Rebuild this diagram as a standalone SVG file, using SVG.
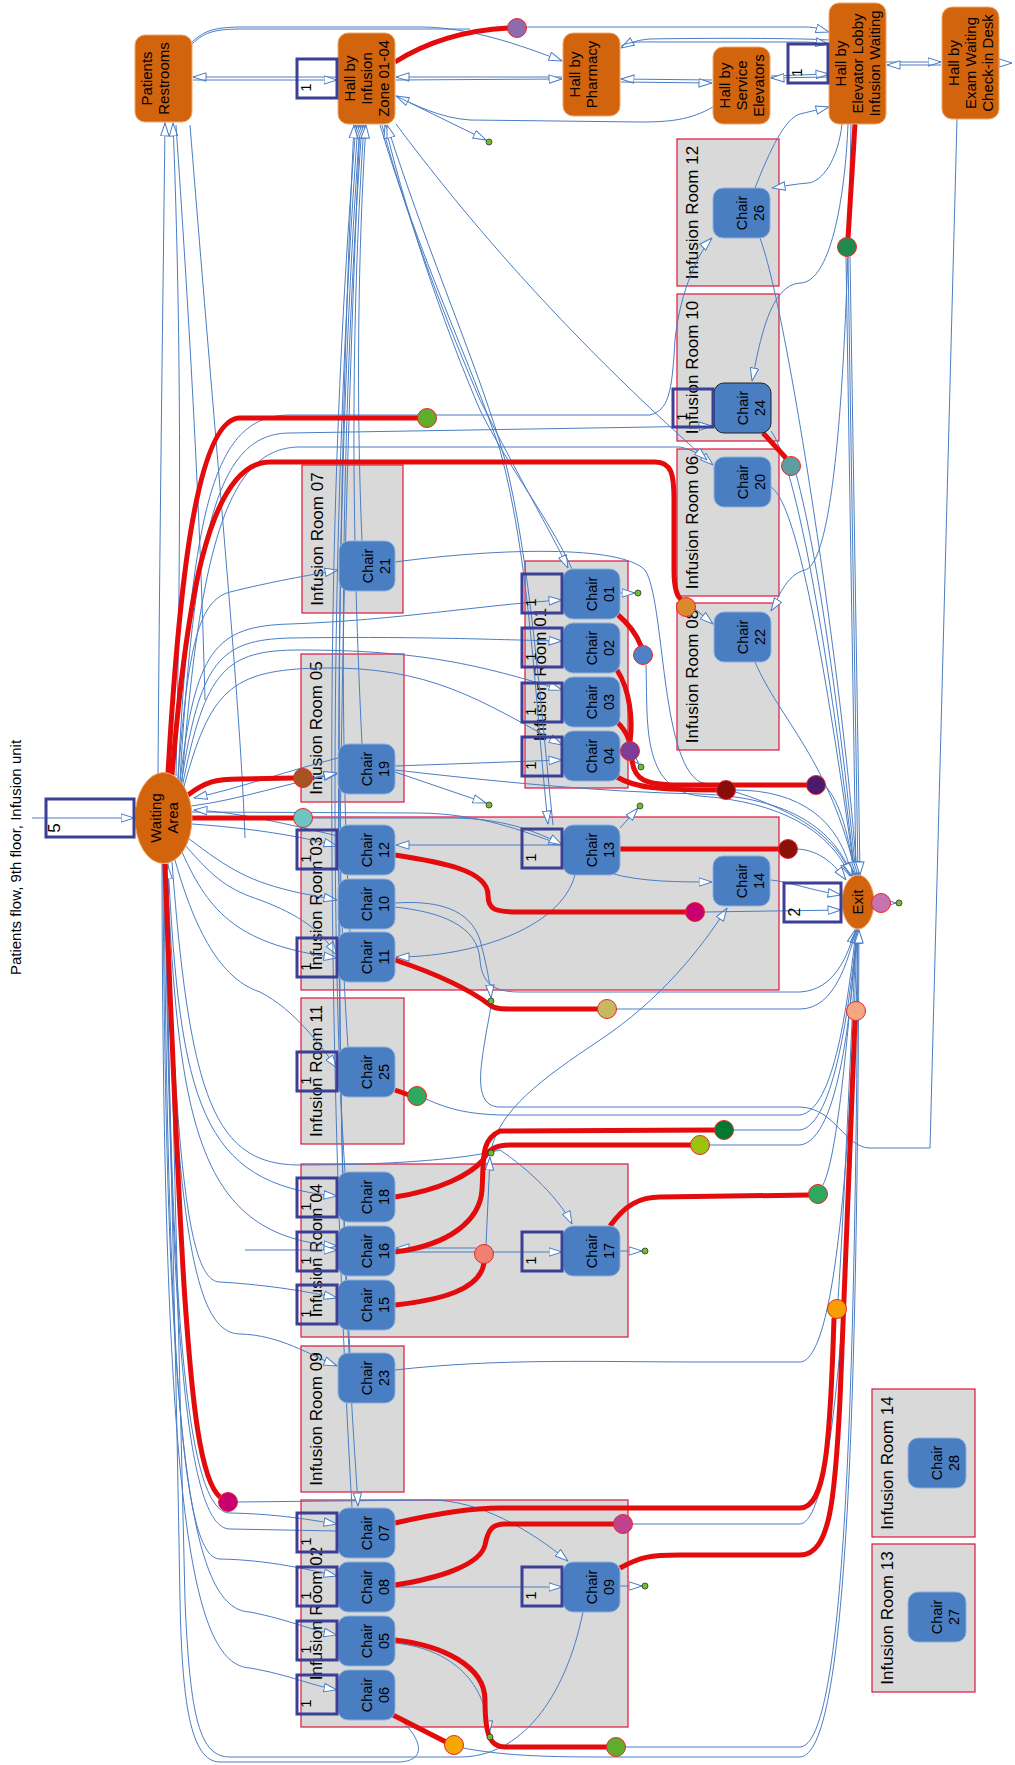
<svg xmlns="http://www.w3.org/2000/svg" width="1015" height="1765" viewBox="0 0 1015 1765">
<defs>
<marker id="a" viewBox="0 0 14 10" refX="13.5" refY="5" markerWidth="14" markerHeight="10" markerUnits="userSpaceOnUse" orient="auto"><path d="M0.5,0.8 L13.5,5 L0.5,9.2 Z" fill="#fff" stroke="#4A7DC4" stroke-width="1"/></marker>
<style>
.room{fill:#D9D9D9;stroke:#DC143C;stroke-width:1.2}
.hall{fill:#D2640E;stroke:#F0A868;stroke-width:1}
.chair{fill:#4A7EC3;stroke:#8DB0DE;stroke-width:1}
.box{fill:none;stroke:#3B3F96;stroke-width:3}
.e{fill:none;stroke:#4A7DC4;stroke-width:1;marker-end:url(#a)}
.e0{fill:none;stroke:#4A7DC4;stroke-width:1}
.r{fill:none;stroke:#E30B0B;stroke-width:5;stroke-linejoin:round}
.c{stroke:#E4282B;stroke-width:1}
.dot{fill:#6BBF2A;stroke:#333;stroke-width:0.8}
text{font-family:"Liberation Sans",Arial,sans-serif;fill:#000;text-anchor:middle}
.tn{font-size:15px}
.tc{font-size:14.5px}
.tr{font-size:17px}
.tb{font-size:15px}
</style>
</defs>
<rect width="1015" height="1765" fill="#fff"/>
<text class="tn" transform="translate(21,857.5) rotate(-90)" x="0" y="0">Patients flow, 9th floor, Infusion unit</text>

<g id="rooms">
<g id="room12"><rect class="room" x="677" y="139" width="102" height="147"/><text class="tr" transform="translate(697.5,212.5) rotate(-90)">Infusion Room 12</text></g>
<g id="room10"><rect class="room" x="677" y="294" width="102" height="147"/><text class="tr" transform="translate(697.5,367.5) rotate(-90)">Infusion Room 10</text></g>
<g id="room06"><rect class="room" x="677" y="449" width="102" height="147"/><text class="tr" transform="translate(697.5,522.5) rotate(-90)">Infusion Room 06</text></g>
<g id="room08"><rect class="room" x="677" y="603" width="102" height="147"/><text class="tr" transform="translate(697.5,676.5) rotate(-90)">Infusion Room 08</text></g>
<g id="room07"><rect class="room" x="302" y="465" width="101" height="148"/><text class="tr" transform="translate(322.5,539) rotate(-90)">Infusion Room 07</text></g>
<g id="room05"><rect class="room" x="301" y="654" width="103" height="148"/><text class="tr" transform="translate(321.5,728) rotate(-90)">Infusion Room 05</text></g>
<g id="room01"><rect class="room" x="525" y="561" width="103" height="227"/><text class="tr" transform="translate(545.5,674.5) rotate(-90)">Infusion Room 01</text></g>
<g id="room03"><rect class="room" x="301" y="817" width="478" height="173"/><text class="tr" transform="translate(321.5,903.5) rotate(-90)">Infusion Room 03</text></g>
<g id="room11"><rect class="room" x="301" y="998" width="103" height="146"/><text class="tr" transform="translate(321.5,1071) rotate(-90)">Infusion Room 11</text></g>
<g id="room04"><rect class="room" x="301" y="1164" width="327" height="173"/><text class="tr" transform="translate(321.5,1250.5) rotate(-90)">Infusion Room 04</text></g>
<g id="room09"><rect class="room" x="301" y="1346" width="103" height="146"/><text class="tr" transform="translate(321.5,1419) rotate(-90)">Infusion Room 09</text></g>
<g id="room02"><rect class="room" x="301" y="1500" width="327" height="227"/><text class="tr" transform="translate(321.5,1613.5) rotate(-90)">Infusion Room 02</text></g>
<g id="room14"><rect class="room" x="872" y="1389" width="103" height="148"/><text class="tr" transform="translate(892.5,1463) rotate(-90)">Infusion Room 14</text></g>
<g id="room13"><rect class="room" x="872" y="1544" width="103" height="148"/><text class="tr" transform="translate(892.5,1618) rotate(-90)">Infusion Room 13</text></g>
</g>

<g id="connectors">
<!-- top halls -->
<path class="e" d="M337,77 L193,77"/>
<path class="e" d="M193,80 L337,80"/>
<path class="e" d="M192,42 C205,30 215,27 245,27 L420,27 C470,27 520,45 562,61"/>
<path class="e" d="M526,27 L805,27 C818,27 822,30 829,32"/>
<path class="e0" d="M192,44 C206,31 216,29 245,29 L470,29"/>
<path class="e" d="M829,40 C800,38 700,38 650,39 C635,40 628,44 621,48"/>
<path class="e" d="M621,46 C630,41 640,42 660,42 L800,42 C815,42 822,43 829,44"/>
<path class="e" d="M562,77 L396,77"/>
<path class="e" d="M396,80 L562,79"/>
<path class="e" d="M712,80 L621,79"/>
<path class="e" d="M621,82 L712,83"/>
<path class="e" d="M771,76 L829,74"/>
<path class="e" d="M829,77 L771,78"/>
<path class="e" d="M713,107 C690,120 670,122 640,122 L470,120 C440,118 415,105 396,96"/>
<path class="e" d="M396,96 L486,140"/>
<path class="e" d="M886,62 L941,62"/>
<path class="e" d="M941,65 L887,65"/>
<path class="e" d="M999,63 L1012,63"/>
<path class="e0" d="M957,119 L930,1148 L870,1148 C845,1148 835,1108 800,1107 L500,1107 C482,1107 478,1090 482,1060 C486,1030 490,1015 491,1005"/>
<!-- lobby -->
<path class="e" d="M842,124 C838,160 822,182 808,183 C795,184 785,186 772,188"/>
<path class="e" d="M755,188 C770,150 785,118 800,114 L829,107"/>
<path class="e" d="M848,124 C845,200 830,283 800,283 C770,285 760,340 752,381"/>
<path class="e" d="M851,124 C848,300 840,560 805,570 C785,575 778,600 771,611"/>
<!-- waiting input -->
<path class="e" d="M32,818 L134,818"/>
<!-- waiting to chairs -->
<path class="e" d="M180,782 C195,650 215,626 290,624 C400,620 480,605 562,600"/>
<path class="e" d="M181,785 C200,660 220,640 290,638 C420,636 500,640 562,641"/>
<path class="e" d="M182,788 C205,670 225,650 300,650 C420,650 480,665 562,690"/>
<path class="e" d="M183,790 C210,690 230,670 320,668 C430,666 480,700 562,745"/>
<path class="e" d="M178,780 C188,640 200,600 230,592 C270,582 310,575 338,570"/>
<path class="e" d="M191,806 C240,800 290,782 337,774"/>
<path class="e" d="M192,824 C250,828 300,836 337,846"/>
<path class="e" d="M188,838 C230,870 250,882 300,893 L337,900"/>
<path class="e" d="M185,845 C215,880 230,890 260,900 C300,915 320,930 337,955"/>
<path class="e" d="M182,852 C210,915 240,945 337,958"/>
<path class="e" d="M175,860 C200,950 230,982 260,992 C295,1010 320,1045 337,1068"/>
<path class="e" d="M168,863 C180,1100 200,1185 337,1196"/>
<path class="e" d="M167,864 C178,1130 200,1236 337,1246"/>
<path class="e" d="M166,864 C176,1180 190,1282 220,1282 C270,1285 310,1292 337,1298"/>
<path class="e" d="M165,864 C175,1260 200,1333 240,1334 C280,1335 310,1355 337,1366"/>
<path class="e" d="M166,864 C170,1300 185,1513 230,1513 C280,1514 310,1520 337,1524"/>
<path class="e0" d="M165,864 C170,1320 185,1529 230,1529 L337,1531"/>
<path class="e" d="M164,864 C168,1400 185,1559 220,1559 C270,1560 310,1570 337,1576"/>
<path class="e" d="M163,864 C166,1450 190,1610 250,1612 C290,1620 310,1630 337,1635"/>
<path class="e" d="M162,864 C163,1500 190,1665 250,1668 C290,1675 310,1685 337,1690"/>
<path class="e" d="M192,812 L420,813 C480,814 520,830 562,845"/>
<path class="e" d="M172,862 C190,1100 215,1165 300,1165 C400,1165 470,1158 500,1150 C530,1170 560,1200 572,1224"/>
<path class="e" d="M180,780 C195,520 220,433 290,433 L712,426"/>
<path class="e" d="M182,782 C200,540 230,447 300,447 L680,447 C695,450 705,458 713,465"/>
<path class="e" d="M178,779 C192,500 215,415 290,415 L650,415 C668,410 672,395 675,340 C680,290 700,250 712,238"/>
<path class="e" d="M237,1502 L430,1500 C480,1500 530,1530 568,1561"/>
<!-- to waiting -->
<path class="e" d="M338,758 C290,770 240,788 194,798"/>
<path class="e" d="M338,836 C290,825 240,812 194,810"/>
<path class="e" d="M583,1612 C565,1700 520,1757 460,1757 L230,1757 C200,1757 190,1720 185,1600 C178,1300 170,1000 168,866"/>
<path class="e0" d="M395,1715 C420,1735 430,1760 400,1762 L220,1762 C190,1762 182,1700 180,1600 C175,1300 167,1000 165,866"/>
<!-- to restrooms -->
<path class="e" d="M158,773 C160,500 163,300 165,123"/>
<path class="e" d="M176,776 C182,500 180,300 173,123"/>
<path class="e0" d="M205,700 C200,500 188,300 176,125"/>
<path class="e0" d="M245,838 C240,700 220,500 190,125"/>
<!-- to / from hall infusion -->
<path class="e" d="M352,1508 C340,1300 330,1000 332,700 C334,400 350,200 356,125"/>
<path class="e" d="M360,125 C352,300 338,700 340,1000 C342,1300 355,1450 358,1506"/>
<path class="e" d="M345,1172 C330,950 330,500 358,125"/>
<path class="e" d="M348,1047 C334,850 336,450 360,125"/>
<path class="e" d="M350,932 C338,700 342,400 362,125"/>
<path class="e" d="M362,744 C350,500 352,300 364,125"/>
<path class="e" d="M362,541 C356,400 358,250 366,125"/>
<path class="e" d="M350,1353 C336,1100 332,600 354,125"/>
<path class="e" d="M382,125 C410,230 450,330 480,400 C520,480 550,530 568,568"/>
<path class="e" d="M572,569 C550,520 510,470 480,410 C450,340 410,230 385,125"/>
<path class="e" d="M380,125 C420,260 470,360 500,450 C530,560 535,700 548,824"/>
<path class="e" d="M553,825 C540,700 530,560 505,460 C480,370 430,260 387,125"/>
<path class="e" d="M396,124 C460,210 560,330 707,460"/>
<!-- chair to chair / dots -->
<path class="e" d="M312,778 L337,773"/>
<path class="e" d="M312,818 L450,818 C500,818 535,830 562,845"/>
<path class="e" d="M395,766 L562,760"/>
<path class="e" d="M395,772 L486,803"/>
<path class="e" d="M620,593 L635,593"/>
<path class="e" d="M634,759 L639,764"/>
<path class="e" d="M620,828 L638,808"/>
<path class="e" d="M620,1251 L642,1251"/>
<path class="e" d="M620,1586 L642,1586"/>
<path class="e" d="M395,1252 L562,1252"/>
<path class="e" d="M476,1248 L396,1248"/>
<path class="e" d="M486,1245 L490,1157"/>
<path class="e" d="M245,1250 L337,1250"/>
<path class="e" d="M395,1587 L562,1587"/>
<path class="e" d="M395,1643 C460,1650 487,1690 489,1734"/>
<path class="e" d="M695,609 L713,624"/>
<path class="e" d="M563,845 L396,845"/>
<path class="e" d="M610,873 C640,882 680,882 712,882"/>
<path class="e" d="M575,875 C560,930 470,957 396,957"/>
<path class="e" d="M491,1150 C500,1110 540,1080 600,1040 C660,1000 700,950 727,908"/>
<path class="e" d="M395,903 C440,900 470,910 480,940 C488,970 490,985 491,998"/>
<path class="e" d="M890,903 L896,903"/>
<!-- to exit -->
<path class="e" d="M771,880 C790,882 810,890 841,895"/>
<path class="e" d="M704,912 L841,910"/>
<path class="e" d="M797,849 C820,850 835,865 846,880"/>
<path class="e" d="M825,786 C840,800 850,840 854,875"/>
<path class="e" d="M735,790 C800,790 840,820 852,876"/>
<path class="e" d="M646,665 C648,720 640,790 700,796 C780,802 830,830 850,876"/>
<path class="e" d="M395,562 C500,548 620,545 645,570 C665,600 660,760 700,782 C780,802 835,830 851,876"/>
<path class="e" d="M395,770 C500,782 600,792 700,794 C790,797 835,830 852,876"/>
<path class="e" d="M796,474 C820,560 845,760 856,875"/>
<path class="e" d="M771,487 C800,505 830,700 855,875"/>
<path class="e" d="M755,662 C780,720 830,760 856,875"/>
<path class="e" d="M760,238 C790,320 845,700 857,875"/>
<path class="e" d="M771,431 C800,470 835,700 855,875"/>
<path class="e" d="M846,257 L856,875"/>
<path class="e" d="M848,257 L858,875"/>
<path class="e" d="M850,257 L860,875"/>
<path class="e" d="M616,1009 L800,1009 C835,1009 848,960 856,930"/>
<path class="e" d="M395,907 C440,912 478,925 480,960 C482,988 500,992 520,992 L800,992 C835,990 848,955 855,930"/>
<path class="e" d="M426,1099 C450,1110 470,1114 500,1115 L800,1115 C835,1110 848,1000 856,930"/>
<path class="e" d="M733,1130 L800,1130 C835,1125 850,1000 857,930"/>
<path class="e" d="M709,1145 L800,1145 C840,1140 852,1000 857,930"/>
<path class="e" d="M823,1185 C840,1150 850,1000 857,930"/>
<path class="e" d="M395,1370 C500,1358 600,1362 700,1362 L800,1362 C840,1360 852,1100 857,930"/>
<path class="e" d="M838,1300 C845,1200 852,1000 857,930"/>
<path class="e" d="M632,1524 L800,1524 C840,1520 852,1200 858,930"/>
<path class="e" d="M625,1747 L800,1747 C845,1745 855,1400 858,930"/>
<path class="e" d="M463,1748 C500,1755 540,1757 600,1757 L800,1757 C848,1755 857,1400 859,930"/>
<!-- red flows -->
<path class="r" d="M395,62 C430,40 470,30 508,28"/>
<path class="r" d="M855,124 L848,238"/>
<path class="r" d="M168,773 C178,600 195,418 240,418 L418,418"/>
<path class="r" d="M172,775 C185,620 205,462 270,462 L655,462 C672,462 674,475 674,500 L674,570 C674,590 678,598 682,600"/>
<path class="r" d="M188,795 C205,782 215,779 240,779 L294,778"/>
<path class="r" d="M192,818 L294,818"/>
<path class="r" d="M165,864 C170,1000 180,1230 185,1300 C192,1400 200,1480 220,1497"/>
<path class="r" d="M763,433 L786,458"/>
<path class="r" d="M617,614 C630,625 638,638 641,646"/>
<path class="r" d="M617,670 C630,690 633,720 630,742"/>
<path class="r" d="M617,722 C628,732 632,745 632,760 C634,780 645,785 680,785 L807,785"/>
<path class="r" d="M617,777 C635,788 660,790 717,790"/>
<path class="r" d="M620,849 L779,849"/>
<path class="r" d="M395,855 C440,862 488,870 488,895 C488,910 495,912 520,912 L686,912"/>
<path class="r" d="M395,960 C440,975 470,990 490,1005 C495,1009 500,1009 520,1009 L598,1009"/>
<path class="r" d="M395,1090 L409,1095"/>
<path class="r" d="M395,1252 C450,1245 480,1220 482,1190 C484,1160 480,1140 500,1131 L715,1130"/>
<path class="r" d="M395,1197 C440,1190 470,1175 483,1160 C488,1150 495,1145 510,1145 L691,1145"/>
<path class="r" d="M395,1305 C440,1300 480,1290 484,1263"/>
<path class="r" d="M610,1226 C625,1205 640,1197 660,1197 L809,1195"/>
<path class="r" d="M395,1523 C430,1515 470,1508 500,1508 L800,1508 C825,1508 830,1450 834,1318"/>
<path class="r" d="M395,1585 C440,1578 480,1565 485,1545 C488,1530 492,1524 505,1524 L614,1524"/>
<path class="r" d="M620,1568 C640,1557 650,1555 680,1555 L800,1555 C830,1555 835,1500 840,1400 L855,1020"/>
<path class="r" d="M395,1640 C440,1645 485,1665 485,1700 C485,1735 490,1747 505,1747 L607,1747"/>
<path class="r" d="M393,1715 L446,1742"/>
</g>

<g id="halls">
<g id="restrooms"><rect class="hall" x="135" y="35" width="57" height="87" rx="10"/><text class="tn" transform="translate(135,78.5) rotate(-90)"><tspan x="0" y="17">Patients</tspan><tspan x="0" y="34">Restrooms</tspan></text></g>
<g id="hall-infusion"><rect class="hall" x="338" y="33" width="57" height="91" rx="10"/><text class="tn" transform="translate(338,78.5) rotate(-90)"><tspan x="0" y="17">Hall by</tspan><tspan x="0" y="34">Infusion</tspan><tspan x="0" y="51">Zone 01-04</tspan></text></g>
<g id="hall-pharmacy"><rect class="hall" x="563" y="33" width="57" height="83" rx="10"/><text class="tn" transform="translate(563,74.5) rotate(-90)"><tspan x="0" y="17">Hall by</tspan><tspan x="0" y="34">Pharmacy</tspan></text></g>
<g id="hall-service"><rect class="hall" x="713" y="47" width="57" height="77" rx="10"/><text class="tn" transform="translate(713,85.5) rotate(-90)"><tspan x="0" y="17">Hall by</tspan><tspan x="0" y="34">Service</tspan><tspan x="0" y="51">Elevators</tspan></text></g>
<g id="hall-lobby"><rect class="hall" x="829" y="3" width="57" height="121" rx="10"/><text class="tn" transform="translate(829,63.5) rotate(-90)"><tspan x="0" y="17">Hall by</tspan><tspan x="0" y="34">Elevator Lobby</tspan><tspan x="0" y="51">Infusion Waiting</tspan></text></g>
<g id="hall-exam"><rect class="hall" x="942" y="7" width="57" height="112" rx="10"/><text class="tn" transform="translate(942,63) rotate(-90)"><tspan x="0" y="17">Hall by</tspan><tspan x="0" y="34">Exam Waiting</tspan><tspan x="0" y="51">Check-in Desk</tspan></text></g>
<g id="waiting"><ellipse class="hall" cx="163.5" cy="818" rx="28.5" ry="45.5"/><text class="tn" transform="translate(163.5,818) rotate(-90)"><tspan x="0" y="-3">Waiting</tspan><tspan x="0" y="14.5">Area</tspan></text></g>
<g id="exit"><ellipse class="hall" cx="858" cy="902" rx="16" ry="27"/><text class="tn" transform="translate(858,902) rotate(-90)" x="0" y="5">Exit</text></g>
</g>

<g id="chairs">
<g id="chair01"><rect class="chair" x="563" y="569" width="57" height="50" rx="10"/><text class="tc" transform="translate(563,594) rotate(-90)"><tspan x="0" y="34">Chair</tspan><tspan x="0" y="51">01</tspan></text></g>
<g id="chair02"><rect class="chair" x="563" y="623" width="57" height="50" rx="10"/><text class="tc" transform="translate(563,648) rotate(-90)"><tspan x="0" y="34">Chair</tspan><tspan x="0" y="51">02</tspan></text></g>
<g id="chair03"><rect class="chair" x="563" y="677" width="57" height="50" rx="10"/><text class="tc" transform="translate(563,702) rotate(-90)"><tspan x="0" y="34">Chair</tspan><tspan x="0" y="51">03</tspan></text></g>
<g id="chair04"><rect class="chair" x="563" y="731" width="57" height="50" rx="10"/><text class="tc" transform="translate(563,756) rotate(-90)"><tspan x="0" y="34">Chair</tspan><tspan x="0" y="51">04</tspan></text></g>
<g id="chair12"><rect class="chair" x="338" y="825" width="57" height="50" rx="10"/><text class="tc" transform="translate(338,850) rotate(-90)"><tspan x="0" y="34">Chair</tspan><tspan x="0" y="51">12</tspan></text></g>
<g id="chair10"><rect class="chair" x="338" y="879" width="57" height="50" rx="10"/><text class="tc" transform="translate(338,904) rotate(-90)"><tspan x="0" y="34">Chair</tspan><tspan x="0" y="51">10</tspan></text></g>
<g id="chair11"><rect class="chair" x="338" y="932" width="57" height="50" rx="10"/><text class="tc" transform="translate(338,957) rotate(-90)"><tspan x="0" y="34">Chair</tspan><tspan x="0" y="51">11</tspan></text></g>
<g id="chair13"><rect class="chair" x="563" y="825" width="57" height="50" rx="10"/><text class="tc" transform="translate(563,850) rotate(-90)"><tspan x="0" y="34">Chair</tspan><tspan x="0" y="51">13</tspan></text></g>
<g id="chair14"><rect class="chair" x="713" y="856" width="57" height="50" rx="10"/><text class="tc" transform="translate(713,881) rotate(-90)"><tspan x="0" y="34">Chair</tspan><tspan x="0" y="51">14</tspan></text></g>
<g id="chair19"><rect class="chair" x="338" y="744" width="57" height="50" rx="10"/><text class="tc" transform="translate(338,769) rotate(-90)"><tspan x="0" y="34">Chair</tspan><tspan x="0" y="51">19</tspan></text></g>
<g id="chair21"><rect class="chair" x="339" y="541" width="56" height="50" rx="10"/><text class="tc" transform="translate(339,566) rotate(-90)"><tspan x="0" y="34">Chair</tspan><tspan x="0" y="51">21</tspan></text></g>
<g id="chair25"><rect class="chair" x="338" y="1047" width="57" height="50" rx="10"/><text class="tc" transform="translate(338,1072) rotate(-90)"><tspan x="0" y="34">Chair</tspan><tspan x="0" y="51">25</tspan></text></g>
<g id="chair18"><rect class="chair" x="338" y="1172" width="57" height="50" rx="10"/><text class="tc" transform="translate(338,1197) rotate(-90)"><tspan x="0" y="34">Chair</tspan><tspan x="0" y="51">18</tspan></text></g>
<g id="chair16"><rect class="chair" x="338" y="1226" width="57" height="50" rx="10"/><text class="tc" transform="translate(338,1251) rotate(-90)"><tspan x="0" y="34">Chair</tspan><tspan x="0" y="51">16</tspan></text></g>
<g id="chair15"><rect class="chair" x="338" y="1280" width="57" height="50" rx="10"/><text class="tc" transform="translate(338,1305) rotate(-90)"><tspan x="0" y="34">Chair</tspan><tspan x="0" y="51">15</tspan></text></g>
<g id="chair17"><rect class="chair" x="563" y="1226" width="57" height="50" rx="10"/><text class="tc" transform="translate(563,1251) rotate(-90)"><tspan x="0" y="34">Chair</tspan><tspan x="0" y="51">17</tspan></text></g>
<g id="chair23"><rect class="chair" x="338" y="1353" width="57" height="50" rx="10"/><text class="tc" transform="translate(338,1378) rotate(-90)"><tspan x="0" y="34">Chair</tspan><tspan x="0" y="51">23</tspan></text></g>
<g id="chair07"><rect class="chair" x="338" y="1508" width="57" height="50" rx="10"/><text class="tc" transform="translate(338,1533) rotate(-90)"><tspan x="0" y="34">Chair</tspan><tspan x="0" y="51">07</tspan></text></g>
<g id="chair08"><rect class="chair" x="338" y="1562" width="57" height="50" rx="10"/><text class="tc" transform="translate(338,1587) rotate(-90)"><tspan x="0" y="34">Chair</tspan><tspan x="0" y="51">08</tspan></text></g>
<g id="chair05"><rect class="chair" x="338" y="1616" width="57" height="50" rx="10"/><text class="tc" transform="translate(338,1641) rotate(-90)"><tspan x="0" y="34">Chair</tspan><tspan x="0" y="51">05</tspan></text></g>
<g id="chair06"><rect class="chair" x="338" y="1670" width="57" height="50" rx="10"/><text class="tc" transform="translate(338,1695) rotate(-90)"><tspan x="0" y="34">Chair</tspan><tspan x="0" y="51">06</tspan></text></g>
<g id="chair09"><rect class="chair" x="563" y="1562" width="57" height="50" rx="10"/><text class="tc" transform="translate(563,1587) rotate(-90)"><tspan x="0" y="34">Chair</tspan><tspan x="0" y="51">09</tspan></text></g>
<g id="chair24"><rect class="chair" x="714" y="383" width="57" height="50" rx="10" style="stroke:#222"/><text class="tc" transform="translate(714,408) rotate(-90)"><tspan x="0" y="34">Chair</tspan><tspan x="0" y="51">24</tspan></text></g>
<g id="chair20"><rect class="chair" x="714" y="457" width="57" height="50" rx="10"/><text class="tc" transform="translate(714,482) rotate(-90)"><tspan x="0" y="34">Chair</tspan><tspan x="0" y="51">20</tspan></text></g>
<g id="chair22"><rect class="chair" x="714" y="612" width="57" height="50" rx="10"/><text class="tc" transform="translate(714,637) rotate(-90)"><tspan x="0" y="34">Chair</tspan><tspan x="0" y="51">22</tspan></text></g>
<g id="chair26"><rect class="chair" x="713" y="188" width="57" height="50" rx="10"/><text class="tc" transform="translate(713,213) rotate(-90)"><tspan x="0" y="34">Chair</tspan><tspan x="0" y="51">26</tspan></text></g>
<g id="chair28"><rect class="chair" x="908" y="1438" width="58" height="50" rx="10"/><text class="tc" transform="translate(908,1463) rotate(-90)"><tspan x="0" y="34">Chair</tspan><tspan x="0" y="51">28</tspan></text></g>
<g id="chair27"><rect class="chair" x="908" y="1592" width="58" height="50" rx="10"/><text class="tc" transform="translate(908,1617) rotate(-90)"><tspan x="0" y="34">Chair</tspan><tspan x="0" y="51">27</tspan></text></g>
</g>

<g id="queues">
<g><rect class="box" x="297" y="59" width="40" height="39"/><text class="tb" transform="translate(311,87.5) rotate(-90)">1</text></g>
<g><rect class="box" x="788" y="44" width="40" height="39"/><text class="tb" transform="translate(802,72.5) rotate(-90)">1</text></g>
<g><rect class="box" x="522" y="574" width="40" height="39"/><text class="tb" transform="translate(536,602.5) rotate(-90)">1</text></g>
<g><rect class="box" x="522" y="628" width="40" height="39"/><text class="tb" transform="translate(536,656.5) rotate(-90)">1</text></g>
<g><rect class="box" x="522" y="683" width="40" height="39"/><text class="tb" transform="translate(536,711.5) rotate(-90)">1</text></g>
<g><rect class="box" x="522" y="737" width="40" height="39"/><text class="tb" transform="translate(536,765.5) rotate(-90)">1</text></g>
<g><rect class="box" x="297" y="830" width="40" height="39"/><text class="tb" transform="translate(311,858.5) rotate(-90)">1</text></g>
<g><rect class="box" x="297" y="938" width="40" height="39"/><text class="tb" transform="translate(311,966.5) rotate(-90)">1</text></g>
<g><rect class="box" x="522" y="829" width="40" height="39"/><text class="tb" transform="translate(536,857.5) rotate(-90)">1</text></g>
<g><rect class="box" x="297" y="1052" width="40" height="39"/><text class="tb" transform="translate(311,1080.5) rotate(-90)">1</text></g>
<g><rect class="box" x="297" y="1178" width="40" height="39"/><text class="tb" transform="translate(311,1206.5) rotate(-90)">1</text></g>
<g><rect class="box" x="297" y="1232" width="40" height="39"/><text class="tb" transform="translate(311,1260.5) rotate(-90)">1</text></g>
<g><rect class="box" x="297" y="1285" width="40" height="39"/><text class="tb" transform="translate(311,1313.5) rotate(-90)">1</text></g>
<g><rect class="box" x="522" y="1232" width="40" height="39"/><text class="tb" transform="translate(536,1260.5) rotate(-90)">1</text></g>
<g><rect class="box" x="297" y="1513" width="40" height="39"/><text class="tb" transform="translate(311,1541.5) rotate(-90)">1</text></g>
<g><rect class="box" x="297" y="1567" width="40" height="39"/><text class="tb" transform="translate(311,1595.5) rotate(-90)">1</text></g>
<g><rect class="box" x="297" y="1621" width="40" height="39"/><text class="tb" transform="translate(311,1649.5) rotate(-90)">1</text></g>
<g><rect class="box" x="297" y="1675" width="40" height="39"/><text class="tb" transform="translate(311,1703.5) rotate(-90)">1</text></g>
<g><rect class="box" x="522" y="1567" width="40" height="39"/><text class="tb" transform="translate(536,1595.5) rotate(-90)">1</text></g>
<g><rect class="box" x="673" y="389" width="40" height="38"/><text class="tb" transform="translate(687,416.5) rotate(-90)">1</text></g>
<g><rect class="box" x="46" y="799" width="88" height="38"/><text class="tb" style="font-size:17px" transform="translate(60,828) rotate(-90)">5</text></g>
<g><rect class="box" x="784" y="883" width="57" height="39"/><text class="tb" style="font-size:16px" transform="translate(800,912) rotate(-90)">2</text></g>
</g>

<g id="ends">
<circle class="c" cx="517" cy="28" r="9.5" fill="#8E6AAF"/>
<circle class="c" cx="847" cy="247" r="9.5" fill="#208A4C"/>
<circle class="c" cx="427" cy="418" r="9.5" fill="#5FAD2B"/>
<circle class="c" cx="686" cy="607" r="9.5" fill="#D98B2B"/>
<circle class="c" cx="643" cy="655" r="9.5" fill="#4F81C6"/>
<circle class="c" cx="630" cy="751" r="9.5" fill="#7D3C98"/>
<circle class="c" cx="726" cy="790" r="9.5" fill="#8B0A0A"/>
<circle class="c" cx="816" cy="785" r="9.5" fill="#4A1A6B"/>
<circle class="c" cx="303" cy="778" r="9.5" fill="#A65221"/>
<circle class="c" cx="303" cy="818" r="9.5" fill="#6DC4C2"/>
<circle class="c" cx="791" cy="466" r="9.5" fill="#5F9EA0"/>
<circle class="c" cx="788" cy="849" r="9.5" fill="#8B1008"/>
<circle class="c" cx="695" cy="912" r="9.5" fill="#C8006E"/>
<circle class="c" cx="607" cy="1009" r="9.5" fill="#C8B860"/>
<circle class="c" cx="856" cy="1011" r="9.5" fill="#F4A582"/>
<circle class="c" cx="881" cy="903" r="9.5" fill="#C673B0"/>
<circle class="c" cx="417" cy="1096" r="9.5" fill="#2EAA5E"/>
<circle class="c" cx="724" cy="1130" r="9.5" fill="#007A33"/>
<circle class="c" cx="700" cy="1145" r="9.5" fill="#9BC20F"/>
<circle class="c" cx="818" cy="1194" r="9.5" fill="#2EAA5E"/>
<circle class="c" cx="484" cy="1254" r="9.5" fill="#F08070"/>
<circle class="c" cx="837" cy="1309" r="9.5" fill="#F5A000"/>
<circle class="c" cx="228" cy="1502" r="9.5" fill="#C8006E"/>
<circle class="c" cx="623" cy="1524" r="9.5" fill="#C0428F"/>
<circle class="c" cx="454" cy="1745" r="9.5" fill="#F5A800"/>
<circle class="c" cx="616" cy="1747" r="9.5" fill="#5FAD2B"/>
<circle class="dot" cx="489" cy="142" r="3"/>
<circle class="dot" cx="638" cy="593" r="3"/>
<circle class="dot" cx="641" cy="767" r="3"/>
<circle class="dot" cx="489" cy="805" r="3"/>
<circle class="dot" cx="640" cy="806" r="3"/>
<circle class="dot" cx="899" cy="903" r="3"/>
<circle class="dot" cx="491" cy="1001" r="3"/>
<circle class="dot" cx="491" cy="1153" r="3"/>
<circle class="dot" cx="645" cy="1251" r="3"/>
<circle class="dot" cx="645" cy="1586" r="3"/>
<circle class="dot" cx="490" cy="1737" r="3"/>
</g>
</svg>
